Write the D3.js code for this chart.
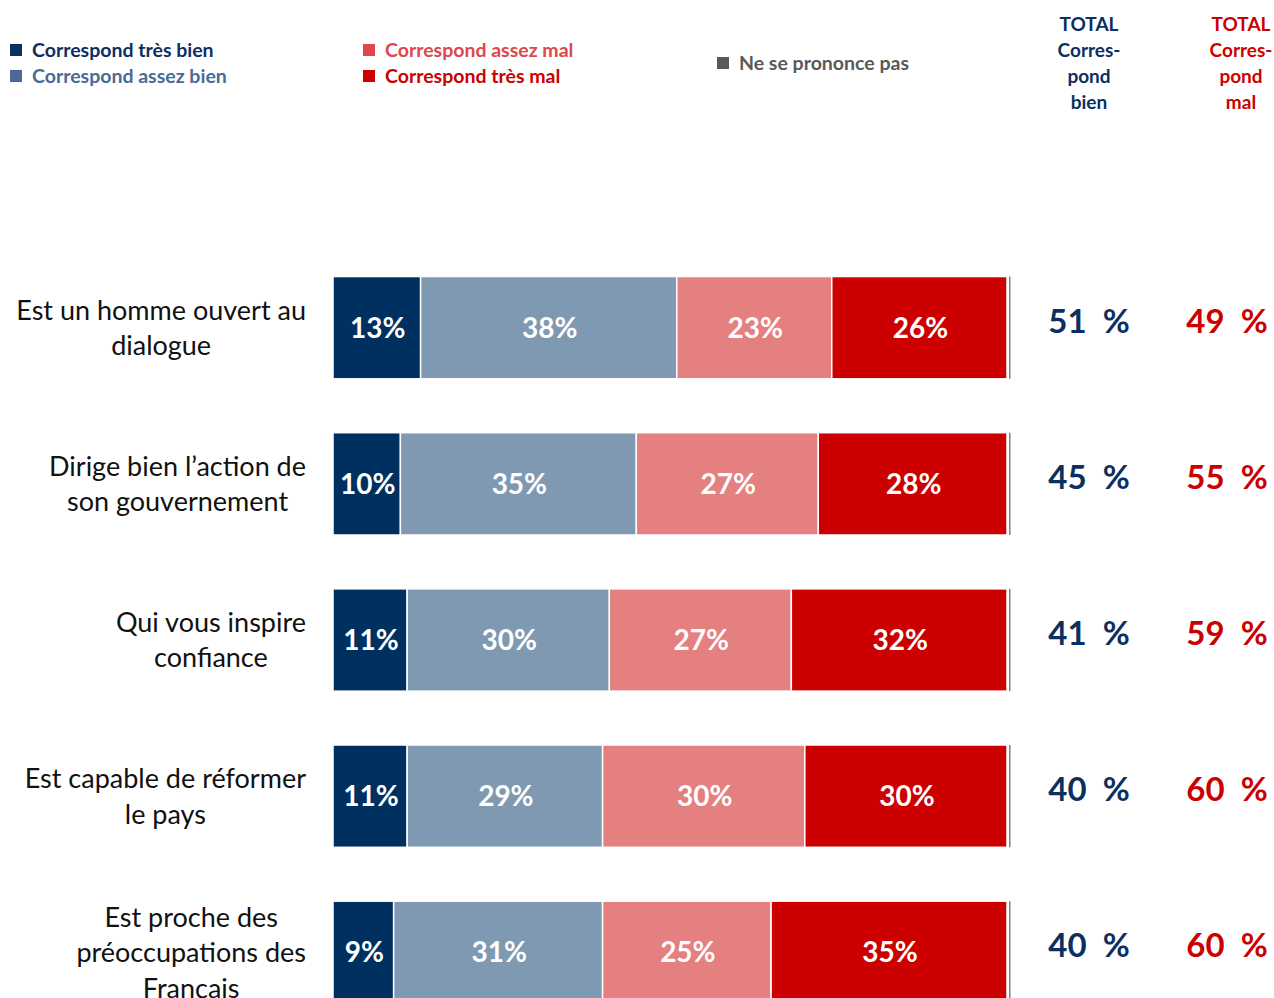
<!DOCTYPE html>
<html>
<head>
<meta charset="utf-8">
<script src="https://cdn.jsdelivr.net/npm/d3@7"></script>
<style>
  body { margin: 0; background: #fff; }
  text { font-family: Lato, "Open Sans", sans-serif; }
</style>
</head>
<body>
<div id="chart"></div>
<script>
// Data
const categories = [
  ["Est un homme ouvert au", "dialogue"],
  ["Dirige bien l\u2019action de", "son gouvernement"],
  ["Qui vous inspire", "confiance"],
  ["Est capable de réformer", "le pays"],
  ["Est proche des", "préoccupations des", "Français"]
];
const tresBien = [13, 10, 11, 11, 9];
const assezBien = [38, 35, 30, 29, 31];
const assezMal = [23, 27, 27, 30, 25];
const tresMal = [26, 28, 32, 30, 35];
const nspp = [0, 0, 0, 0, 0];
const totalBien = [51, 45, 41, 40, 40];
const totalMal = [49, 55, 59, 60, 60];

const seriesNames = ["Correspond très bien", "Correspond assez bien", "Correspond assez mal", "Correspond très mal", "Ne se prononce pas"];
const seriesColors = ["#00305f", "#7f99b2", "#e48080", "#cc0000", "#808080"];
const legendColors = ["#0b2f5f", "#4a6a96", "#e0464b", "#cc0000", "#595959"];

const width = 1274, height = 998;
const svg = d3.select("#chart").append("svg")
    .attr("width", width)
    .attr("height", height);

// Scales
const x = d3.scaleLinear().domain([0, 100]).range([333, 1007]);
const y = d3.scaleBand()
    .domain(d3.range(categories.length))
    .range([250, 1030])
    .paddingInner(0.345)
    .paddingOuter(0.17);

// Stack the series
const rows = categories.map((c, i) => ({
  i, s0: tresBien[i], s1: assezBien[i], s2: assezMal[i], s3: tresMal[i], s4: nspp[i]
}));
const stack = d3.stack().keys(["s0", "s1", "s2", "s3", "s4"]);
const stacked = stack(rows);

svg.append("g").selectAll("g")
  .data(stacked)
  .join("g")
    .attr("fill", (d, k) => seriesColors[k])
  .selectAll("rect")
  .data(d => d)
  .join("rect")
    .attr("x", d => x(d[0]))
    .attr("y", d => y(d.data.i))
    .attr("width", function(d) {
      const k = d3.select(this.parentNode).datum().key;
      // the "ne se prononce pas" slice shows as a hairline even at 0
      return k === "s4" ? 1.5 : Math.max(0, x(d[1]) - x(d[0]));
    })
    .attr("transform", function() {
      return d3.select(this.parentNode).datum().key === "s4" ? "translate(2,0)" : null;
    })
    .attr("height", y.bandwidth())
    .attr("stroke", "#fff")
    .attr("stroke-width", function() {
      return d3.select(this.parentNode).datum().key === "s4" ? 0 : 1.5;
    });

// Value labels inside the bars
const labelSeries = stacked.slice(0, 4);
svg.append("g").selectAll("g")
  .data(labelSeries)
  .join("g")
  .selectAll("text")
  .data(d => d)
  .join("text")
    .attr("x", d => (x(d[0]) + x(d[1])) / 2 + 1)
    .attr("y", d => y(d.data.i) + y.bandwidth() / 2)
    .attr("dy", "0.36em")
    .attr("text-anchor", "middle")
    .attr("fill", "#fff")
    .style("font-size", "28px")
    .style("font-weight", "bold")
    .text(d => (d[1] - d[0]) + "%");

// Category labels (centered block, right edge at 306)
categories.forEach((lines, i) => {
  const g = svg.append("g");
  const cy = y(i) + y.bandwidth() / 2;
  const lh = 35.5;
  const t = g.selectAll("text")
    .data(lines)
    .join("text")
      .attr("y", (d, j) => cy + (j - (lines.length - 1) / 2) * lh)
      .attr("dy", "0.36em")
      .attr("text-anchor", "middle")
      .attr("fill", "#111")
      .style("font-size", "27px")
      .text(d => d);
  let maxw = 0;
  t.each(function() { maxw = Math.max(maxw, this.getComputedTextLength()); });
  t.attr("x", 306 - maxw / 2);
});

// Totals
svg.append("g").selectAll("text")
  .data(totalBien)
  .join("text")
    .attr("x", 1089)
    .attr("y", (d, i) => y(i) + y.bandwidth() / 2 - 7)
    .attr("dy", "0.36em")
    .attr("text-anchor", "middle")
    .attr("fill", "#0b2f5f")
    .style("font-size", "33px")
    .style("font-weight", "bold")
    .style("white-space", "pre")
    .text(d => d + "  %");

svg.append("g").selectAll("text")
  .data(totalMal)
  .join("text")
    .attr("x", 1227)
    .attr("y", (d, i) => y(i) + y.bandwidth() / 2 - 7)
    .attr("dy", "0.36em")
    .attr("text-anchor", "middle")
    .attr("fill", "#cc0000")
    .style("font-size", "33px")
    .style("font-weight", "bold")
    .style("white-space", "pre")
    .text(d => d + "  %");

// Column headers
const headBien = ["TOTAL", "Corres-", "pond", "bien"];
const headMal = ["TOTAL", "Corres-", "pond", "mal"];
[[headBien, 1089, "#0b2f5f"], [headMal, 1241, "#cc0000"]].forEach(([lines, cx, col]) => {
  svg.append("g").selectAll("text")
    .data(lines)
    .join("text")
      .attr("x", cx)
      .attr("y", (d, j) => 24 + j * 26)
      .attr("dy", "0.36em")
      .attr("text-anchor", "middle")
      .attr("fill", col)
      .style("font-size", "19px")
      .style("font-weight", "bold")
      .text(d => d);
});

// Legend
const legendPos = [[10, 50], [10, 76], [363, 50], [363, 76], [717, 63]];
const legendOrder = [0, 1, 2, 3, 4];
const leg = svg.append("g").selectAll("g")
  .data(legendOrder)
  .join("g")
    .attr("transform", k => `translate(${legendPos[k][0]},${legendPos[k][1]})`);
leg.append("rect")
    .attr("x", 0).attr("y", -6)
    .attr("width", 12).attr("height", 12)
    .attr("fill", k => legendColors[k]);
leg.append("text")
    .attr("x", 22)
    .attr("dy", "0.36em")
    .attr("fill", k => legendColors[k])
    .style("font-size", "19.5px")
    .style("font-weight", "bold")
    .text(k => seriesNames[k]);
</script>
</body>
</html>
